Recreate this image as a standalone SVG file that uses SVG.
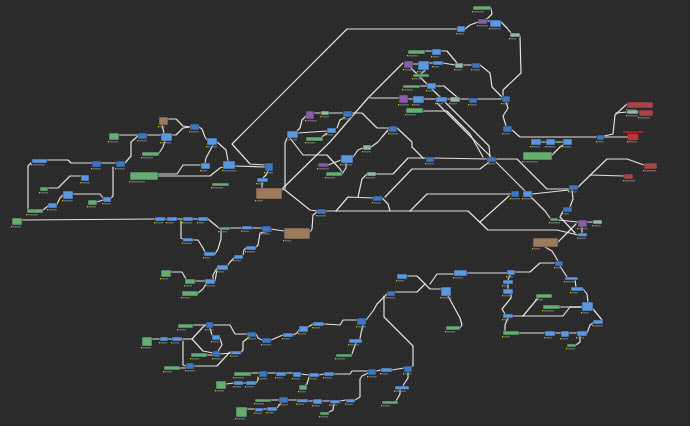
<svg xmlns="http://www.w3.org/2000/svg" width="690" height="426" viewBox="0 0 690 426">
<defs>
<pattern id="grid" width="4" height="4" patternUnits="userSpaceOnUse"><rect width="4" height="4" fill="#2a2a2a"/><path d="M4 0V4H0" fill="none" stroke="#303030" stroke-width="1"/></pattern>
<style>
.c{fill:none;stroke:#e2e2e2;stroke-width:1.2;stroke-linejoin:round;stroke-linecap:round}
.n rect:first-child{stroke:#1e2a38;stroke-width:.5}
.b{fill:#5c98df}.bd{fill:#3e77bd}.g{fill:#67ad6e}.br{fill:#9c7a5c}.pu{fill:#8a5ea6}.pa{fill:#95b8a5}.r{fill:#a94545}
.rd{fill:#b03a3a;stroke:#ff2020!important;stroke-dasharray:1.5 1;stroke-width:.8!important}
.lb{fill:#8a8a8a;opacity:.7}.dt{fill:#e0c000}
</style>
</defs>
<rect width="690" height="426" fill="url(#grid)"/>
<g id="connectors">
<polyline class="c" points="47,160 68,160 71,163 92,163"/>
<polyline class="c" points="101,163 116,163"/>
<polyline class="c" points="31,163 28,166 28,209"/>
<polyline class="c" points="22,220 155,219"/>
<polyline class="c" points="43,210 48,206"/>
<polyline class="c" points="57,204 60,198 63,195"/>
<polyline class="c" points="73,194 100,194 103,198"/>
<polyline class="c" points="97,202 103,200"/>
<polyline class="c" points="113,167 113,196 111,198"/>
<polyline class="c" points="125,163 131,156 131,142 138,136"/>
<polyline class="c" points="48,188 58,188 70,176 81,176"/>
<polyline class="c" points="158,174 177,174 183,165 201,165"/>
<polyline class="c" points="158,176 210,176 220,168 223,167"/>
<polyline class="c" points="119,135 138,135"/>
<polyline class="c" points="147,135 161,135"/>
<polyline class="c" points="172,135 176,135 183,128 190,127"/>
<polyline class="c" points="168,119 176,119 183,126 190,127"/>
<polyline class="c" points="164,133 162,125"/>
<polyline class="c" points="199,127 202,129 205,137 207,140"/>
<polyline class="c" points="213,145 206,158 205,163"/>
<polyline class="c" points="217,142 226,150 228,161"/>
<polyline class="c" points="159,153 163,147 165,141"/>
<polyline class="c" points="457,29 347,29 232,144 250,164 265,165"/>
<polyline class="c" points="235,166 265,167"/>
<polyline class="c" points="268,171 266,175 263,178"/>
<polyline class="c" points="262,182 262,188"/>
<polyline class="c" points="165,219 167,219"/>
<polyline class="c" points="177,219 183,219"/>
<polyline class="c" points="193,219 198,219"/>
<polyline class="c" points="208,219 214,224 219,228"/>
<polyline class="c" points="181,221 181,238 183,239"/>
<polyline class="c" points="193,240 198,240 203,248 205,252"/>
<polyline class="c" points="215,254 218,249 221,239 221,230"/>
<polyline class="c" points="230,228 242,228"/>
<polyline class="c" points="252,228 262,228"/>
<polyline class="c" points="271,229 284,231"/>
<polyline class="c" points="271,231 260,233 258,245 256,247"/>
<polyline class="c" points="246,248 244,250 243,255"/>
<polyline class="c" points="234,258 230,262 228,265"/>
<polyline class="c" points="217,268 213,275 213,279"/>
<polyline class="c" points="171,272 182,272 186,279"/>
<polyline class="c" points="195,281 205,281"/>
<polyline class="c" points="198,293 203,289 206,284"/>
<polyline class="c" points="317,212 313,215 312,229 310,232"/>
<polyline class="c" points="287,138 285,143 285,189 282,190"/>
<polyline class="c" points="403,63 368,98 330,142 282,189"/>
<polyline class="c" points="285,190 310,210 317,211"/>
<polyline class="c" points="326,211 468,211 488,230 557,230 578,235"/>
<polyline class="c" points="336,211 348,197 373,198"/>
<polyline class="c" points="382,198 388,204 390,211"/>
<polyline class="c" points="358,197 362,179 367,174"/>
<polyline class="c" points="376,174 393,174 408,158 426,158"/>
<polyline class="c" points="410,211 427,194 511,194"/>
<polyline class="c" points="532,194 569,190"/>
<polyline class="c" points="385,197 412,169 480,169 489,162"/>
<polyline class="c" points="434,158 487,159"/>
<polyline class="c" points="496,159 517,159 547,189 569,189"/>
<polyline class="c" points="397,128 412,142 412,147 423,158"/>
<polyline class="c" points="388,130 382,137 378,142 371,147"/>
<polyline class="c" points="352,113 362,113 377,128 389,128"/>
<polyline class="c" points="329,113 343,113"/>
<polyline class="c" points="314,113 321,113"/>
<polyline class="c" points="306,116 302,120 300,128 297,131"/>
<polyline class="c" points="298,133 327,131"/>
<polyline class="c" points="345,117 340,120 337,128"/>
<polyline class="c" points="327,133 322,137"/>
<polyline class="c" points="363,148 358,150 353,157"/>
<polyline class="c" points="328,165 341,160"/>
<polyline class="c" points="342,174 346,168 346,163"/>
<polyline class="c" points="290,138 303,155 327,155 340,169 342,172"/>
<polyline class="c" points="425,51 432,51"/>
<polyline class="c" points="441,51 447,51 457,63"/>
<polyline class="c" points="413,64 418,64"/>
<polyline class="c" points="429,63 433,63"/>
<polyline class="c" points="443,63 455,65"/>
<polyline class="c" points="463,65 472,65"/>
<polyline class="c" points="480,65 490,73 492,87 502,97"/>
<polyline class="c" points="420,86 427,86"/>
<polyline class="c" points="436,86 444,86 457,97"/>
<polyline class="c" points="370,98 399,98"/>
<polyline class="c" points="408,99 413,99"/>
<polyline class="c" points="424,99 436,99"/>
<polyline class="c" points="447,99 450,99"/>
<polyline class="c" points="460,99 469,99"/>
<polyline class="c" points="477,99 502,99"/>
<polyline class="c" points="425,70 421,74"/>
<polyline class="c" points="423,111 447,111 470,134 483,157"/>
<polyline class="c" points="520,36 521,73 503,90 503,96"/>
<polyline class="c" points="506,102 508,108 503,116 506,126"/>
<polyline class="c" points="501,22 507,28 511,33"/>
<polyline class="c" points="487,21 490,21"/>
<polyline class="c" points="465,29 470,25 478,22"/>
<polyline class="c" points="491,8 492,14 488,18 486,19"/>
<polyline class="c" points="411,68 489,146 490,157"/>
<polyline class="c" points="437,103 545,211 550,218"/>
<polyline class="c" points="604,137 628,137"/>
<polyline class="c" points="604,136 613,134 615,115 627,104"/>
<polyline class="c" points="616,113 627,112"/>
<polyline class="c" points="578,187 607,159 627,159 644,165"/>
<polyline class="c" points="590,175 624,176"/>
<polyline class="c" points="635,112 639,112"/>
<polyline class="c" points="512,130 520,137 597,137"/>
<polyline class="c" points="552,155 560,147 563,145"/>
<polyline class="c" points="541,142 546,142"/>
<polyline class="c" points="555,142 563,142"/>
<polyline class="c" points="572,190 573,199 570,207"/>
<polyline class="c" points="563,211 560,217 575,233"/>
<polyline class="c" points="558,220 578,222"/>
<polyline class="c" points="587,222 593,222"/>
<polyline class="c" points="582,227 582,233"/>
<polyline class="c" points="558,242 576,224"/>
<polyline class="c" points="545,247 552,251 558,261"/>
<polyline class="c" points="555,263 540,263 530,272 515,272"/>
<polyline class="c" points="467,273 507,273"/>
<polyline class="c" points="560,266 567,277"/>
<polyline class="c" points="510,275 508,280"/>
<polyline class="c" points="480,222 509,196"/>
<polyline class="c" points="508,284 508,289"/>
<polyline class="c" points="511,294 511,298 502,309 505,314"/>
<polyline class="c" points="513,316 563,316 570,307 582,307"/>
<polyline class="c" points="523,316 538,298"/>
<polyline class="c" points="560,307 582,307"/>
<polyline class="c" points="575,280 576,287"/>
<polyline class="c" points="583,289 587,294 588,302"/>
<polyline class="c" points="593,309 602,320"/>
<polyline class="c" points="508,318 505,325 505,331"/>
<polyline class="c" points="519,333 545,333"/>
<polyline class="c" points="555,333 561,333"/>
<polyline class="c" points="569,333 577,333"/>
<polyline class="c" points="587,333 590,325 593,323"/>
<polyline class="c" points="580,336 580,342 576,345"/>
<polyline class="c" points="448,296 460,318 462,325 460,328"/>
<polyline class="c" points="395,292 417,292 425,284"/>
<polyline class="c" points="407,276 417,276 425,284 430,289 441,289"/>
<polyline class="c" points="430,284 437,274 454,274"/>
<polyline class="c" points="384,296 384,317 413,346 413,366 410,367"/>
<polyline class="c" points="387,294 377,304 373,311 366,320"/>
<polyline class="c" points="357,320 343,320 340,325 324,324"/>
<polyline class="c" points="313,324 308,327"/>
<polyline class="c" points="299,330 297,333 293,335"/>
<polyline class="c" points="283,335 278,337 271,340"/>
<polyline class="c" points="262,340 258,338 256,334"/>
<polyline class="c" points="247,334 235,334 230,325 213,325"/>
<polyline class="c" points="249,337 243,342 243,350 241,352"/>
<polyline class="c" points="220,354 231,353"/>
<polyline class="c" points="363,325 361,333 360,339"/>
<polyline class="c" points="356,343 354,348 352,354"/>
<polyline class="c" points="251,373 259,373"/>
<polyline class="c" points="267,373 276,373"/>
<polyline class="c" points="286,373 293,373"/>
<polyline class="c" points="301,374 309,375"/>
<polyline class="c" points="319,375 324,374"/>
<polyline class="c" points="334,374 350,374 352,371 368,371"/>
<polyline class="c" points="376,371 381,370"/>
<polyline class="c" points="392,370 404,368"/>
<polyline class="c" points="243,383 246,383"/>
<polyline class="c" points="256,383 258,380 258,377"/>
<polyline class="c" points="309,377 307,384 305,386"/>
<polyline class="c" points="368,373 362,376 360,379 360,397 355,400"/>
<polyline class="c" points="408,372 408,378 404,384 403,386"/>
<polyline class="c" points="400,389 400,394 396,401"/>
<polyline class="c" points="271,400 279,400"/>
<polyline class="c" points="288,400 297,400"/>
<polyline class="c" points="308,401 313,401"/>
<polyline class="c" points="322,401 330,401"/>
<polyline class="c" points="340,401 346,400"/>
<polyline class="c" points="281,403 277,408"/>
<polyline class="c" points="247,409 255,409"/>
<polyline class="c" points="263,409 267,409"/>
<polyline class="c" points="334,403 333,410 329,412"/>
<polyline class="c" points="152,339 160,339"/>
<polyline class="c" points="168,339 172,339"/>
<polyline class="c" points="182,339 192,339 203,327 206,325"/>
<polyline class="c" points="192,339 203,351 213,353"/>
<polyline class="c" points="183,341 183,365 186,366"/>
<polyline class="c" points="193,325 206,325"/>
<polyline class="c" points="210,328 212,335"/>
<polyline class="c" points="220,338 222,345 218,351"/>
<polyline class="c" points="207,355 213,355"/>
<polyline class="c" points="194,366 217,366 230,352"/>
<polyline class="c" points="180,368 186,368"/>
<polyline class="c" points="226,384 234,383"/>
<polyline class="c" points="215,281 217,270"/>
</g>
<g id="n1" class="n"><rect class="b" x="32" y="159" width="15" height="4"/><rect class="dt" x="31" y="164" width="1.3" height="1.3"/><rect class="lb" x="33" y="164.2" width="12" height="1.2"/></g>
<g id="n2" class="n"><rect class="bd" x="92" y="161" width="9" height="6"/><rect class="dt" x="91" y="168" width="1.3" height="1.3"/><rect class="lb" x="93" y="168.2" width="8" height="1.2"/></g>
<g id="n3" class="n"><rect class="bd" x="116" y="161" width="9" height="6"/><rect class="dt" x="115" y="168" width="1.3" height="1.3"/><rect class="lb" x="117" y="168.2" width="8" height="1.2"/></g>
<g id="n4" class="n"><rect class="g" x="130" y="172" width="28" height="8"/><rect class="dt" x="129" y="181" width="1.3" height="1.3"/><rect class="lb" x="131" y="181.2" width="14" height="1.2"/></g>
<g id="n5" class="n"><rect class="b" x="81" y="175" width="8" height="6"/><rect class="dt" x="80" y="182" width="1.3" height="1.3"/><rect class="lb" x="82" y="182.2" width="8" height="1.2"/></g>
<g id="n6" class="n"><rect class="g" x="40" y="187" width="8" height="4"/><rect class="dt" x="39" y="192" width="1.3" height="1.3"/><rect class="lb" x="41" y="192.2" width="7" height="1.2"/></g>
<g id="n7" class="n"><rect class="b" x="63" y="191" width="10" height="8"/><rect class="dt" x="62" y="200" width="1.3" height="1.3"/><rect class="lb" x="64" y="200.2" width="9" height="1.2"/></g>
<g id="n8" class="n"><rect class="b" x="48" y="203" width="9" height="5"/><rect class="dt" x="47" y="209" width="1.3" height="1.3"/><rect class="lb" x="49" y="209.2" width="8" height="1.2"/></g>
<g id="n9" class="n"><rect class="g" x="88" y="200" width="9" height="5"/><rect class="dt" x="87" y="206" width="1.3" height="1.3"/><rect class="lb" x="89" y="206.2" width="7" height="1.2"/></g>
<g id="n10" class="n"><rect class="b" x="103" y="197" width="8" height="5"/><rect class="dt" x="102" y="203" width="1.3" height="1.3"/><rect class="lb" x="104" y="203.2" width="7" height="1.2"/></g>
<g id="n11" class="n"><rect class="g" x="27" y="209" width="16" height="4"/><rect class="dt" x="26" y="214" width="1.3" height="1.3"/><rect class="lb" x="28" y="214.2" width="10" height="1.2"/></g>
<g id="n12" class="n"><rect class="g" x="12" y="218" width="10" height="7"/><rect class="dt" x="11" y="226" width="1.3" height="1.3"/><rect class="lb" x="13" y="226.2" width="8" height="1.2"/></g>
<g id="n13" class="n"><rect class="br" x="159" y="117" width="9" height="8"/><rect class="dt" x="158" y="126" width="1.3" height="1.3"/><rect class="lb" x="160" y="126.2" width="5" height="1.2"/></g>
<g id="n14" class="n"><rect class="bd" x="190" y="124" width="9" height="6"/><rect class="dt" x="189" y="131" width="1.3" height="1.3"/><rect class="lb" x="191" y="131.2" width="8" height="1.2"/></g>
<g id="n15" class="n"><rect class="g" x="109" y="133" width="10" height="7"/><rect class="dt" x="108" y="141" width="1.3" height="1.3"/><rect class="lb" x="110" y="141.2" width="8" height="1.2"/></g>
<g id="n16" class="n"><rect class="bd" x="138" y="133" width="9" height="6"/><rect class="dt" x="137" y="140" width="1.3" height="1.3"/><rect class="lb" x="139" y="140.2" width="8" height="1.2"/></g>
<g id="n17" class="n"><rect class="b" x="161" y="133" width="11" height="8"/><rect class="dt" x="160" y="142" width="1.3" height="1.3"/><rect class="lb" x="162" y="142.2" width="9" height="1.2"/></g>
<g id="n18" class="n"><rect class="b" x="207" y="138" width="10" height="7"/><rect class="dt" x="206" y="146" width="1.3" height="1.3"/><rect class="lb" x="208" y="146.2" width="9" height="1.2"/></g>
<g id="n19" class="n"><rect class="g" x="142" y="152" width="17" height="4"/><rect class="dt" x="141" y="157" width="1.3" height="1.3"/><rect class="lb" x="143" y="157.2" width="10" height="1.2"/></g>
<g id="n20" class="n"><rect class="b" x="201" y="163" width="9" height="6"/><rect class="dt" x="200" y="170" width="1.3" height="1.3"/><rect class="lb" x="202" y="170.2" width="5" height="1.2"/></g>
<g id="n21" class="n"><rect class="b" x="223" y="161" width="12" height="8"/><rect class="dt" x="222" y="170" width="1.3" height="1.3"/><rect class="lb" x="224" y="170.2" width="12" height="1.2"/></g>
<g id="n22" class="n"><rect class="g" x="212" y="183" width="17" height="3"/><rect class="dt" x="211" y="187" width="1.3" height="1.3"/><rect class="lb" x="213" y="187.2" width="10" height="1.2"/></g>
<g id="n23" class="n"><rect class="b" x="155" y="217" width="10" height="4"/><rect class="dt" x="154" y="222" width="1.3" height="1.3"/><rect class="lb" x="156" y="222.2" width="7" height="1.2"/></g>
<g id="n24" class="n"><rect class="b" x="167" y="217" width="10" height="4"/><rect class="dt" x="166" y="222" width="1.3" height="1.3"/><rect class="lb" x="168" y="222.2" width="6" height="1.2"/></g>
<g id="n25" class="n"><rect class="b" x="183" y="217" width="10" height="4"/><rect class="dt" x="182" y="222" width="1.3" height="1.3"/><rect class="lb" x="184" y="222.2" width="8" height="1.2"/></g>
<g id="n26" class="n"><rect class="b" x="198" y="217" width="10" height="4"/><rect class="dt" x="197" y="222" width="1.3" height="1.3"/><rect class="lb" x="199" y="222.2" width="5" height="1.2"/></g>
<g id="n27" class="n"><rect class="g" x="219" y="227" width="11" height="3"/><rect class="dt" x="218" y="231" width="1.3" height="1.3"/><rect class="lb" x="220" y="231.2" width="7" height="1.2"/></g>
<g id="n28" class="n"><rect class="b" x="183" y="238" width="10" height="3.5"/><rect class="dt" x="182" y="242.5" width="1.3" height="1.3"/><rect class="lb" x="184" y="242.7" width="8" height="1.2"/></g>
<g id="n29" class="n"><rect class="b" x="204" y="252" width="11" height="4"/><rect class="dt" x="203" y="257" width="1.3" height="1.3"/><rect class="lb" x="205" y="257.2" width="5" height="1.2"/></g>
<g id="n30" class="n"><rect class="g" x="161" y="270" width="10" height="7"/><rect class="dt" x="160" y="278" width="1.3" height="1.3"/><rect class="lb" x="162" y="278.2" width="6" height="1.2"/></g>
<g id="n31" class="n"><rect class="g" x="185" y="279" width="10" height="5"/><rect class="dt" x="184" y="285" width="1.3" height="1.3"/><rect class="lb" x="186" y="285.2" width="6" height="1.2"/></g>
<g id="n32" class="n"><rect class="b" x="205" y="279" width="10" height="5"/><rect class="dt" x="204" y="285" width="1.3" height="1.3"/><rect class="lb" x="206" y="285.2" width="9" height="1.2"/></g>
<g id="n33" class="n"><rect class="b" x="217" y="265" width="11" height="5"/><rect class="dt" x="216" y="271" width="1.3" height="1.3"/><rect class="lb" x="218" y="271.2" width="6" height="1.2"/></g>
<g id="n34" class="n"><rect class="b" x="234" y="255" width="9" height="4"/><rect class="dt" x="233" y="260" width="1.3" height="1.3"/><rect class="lb" x="235" y="260.2" width="6" height="1.2"/></g>
<g id="n35" class="n"><rect class="b" x="246" y="246" width="10" height="4"/><rect class="dt" x="245" y="251" width="1.3" height="1.3"/><rect class="lb" x="247" y="251.2" width="8" height="1.2"/></g>
<g id="n36" class="n"><rect class="b" x="242" y="226" width="10" height="3.5"/><rect class="dt" x="241" y="230.5" width="1.3" height="1.3"/><rect class="lb" x="243" y="230.7" width="6" height="1.2"/></g>
<g id="n37" class="n"><rect class="bd" x="262" y="226" width="9" height="6"/><rect class="dt" x="261" y="233" width="1.3" height="1.3"/><rect class="lb" x="263" y="233.2" width="7" height="1.2"/></g>
<g id="n38" class="n"><rect class="br" x="284" y="228" width="26" height="11"/><rect class="dt" x="283" y="240" width="1.3" height="1.3"/><rect class="lb" x="285" y="240.2" width="6" height="1.2"/></g>
<g id="n39" class="n"><rect class="bd" x="265" y="163" width="8" height="8"/><rect class="dt" x="264" y="172" width="1.3" height="1.3"/><rect class="lb" x="266" y="172.2" width="7" height="1.2"/></g>
<g id="n40" class="n"><rect class="b" x="257" y="178" width="11" height="4"/><rect class="dt" x="256" y="183" width="1.3" height="1.3"/><rect class="lb" x="258" y="183.2" width="6" height="1.2"/></g>
<g id="n41" class="n"><rect class="br" x="256" y="188" width="26" height="11"/><rect class="dt" x="255" y="200" width="1.3" height="1.3"/><rect class="lb" x="257" y="200.2" width="6" height="1.2"/></g>
<g id="n42" class="n"><rect class="bd" x="317" y="209" width="9" height="5"/><rect class="dt" x="316" y="215" width="1.3" height="1.3"/><rect class="lb" x="318" y="215.2" width="8" height="1.2"/></g>
<g id="n43" class="n"><rect class="pu" x="318" y="163" width="10" height="4"/><rect class="dt" x="317" y="168" width="1.3" height="1.3"/><rect class="lb" x="319" y="168.2" width="10" height="1.2"/></g>
<g id="n44" class="n"><rect class="g" x="326" y="172" width="16" height="4"/><rect class="dt" x="325" y="177" width="1.3" height="1.3"/><rect class="lb" x="327" y="177.2" width="8" height="1.2"/></g>
<g id="n45" class="n"><rect class="b" x="341" y="155" width="12" height="8"/><rect class="dt" x="340" y="164" width="1.3" height="1.3"/><rect class="lb" x="342" y="164.2" width="10" height="1.2"/></g>
<g id="n46" class="n"><rect class="pa" x="363" y="145" width="8" height="5"/><rect class="dt" x="362" y="151" width="1.3" height="1.3"/><rect class="lb" x="364" y="151.2" width="7" height="1.2"/></g>
<g id="n47" class="n"><rect class="pa" x="367" y="172" width="9" height="4"/><rect class="dt" x="366" y="177" width="1.3" height="1.3"/><rect class="lb" x="368" y="177.2" width="7" height="1.2"/></g>
<g id="n48" class="n"><rect class="bd" x="373" y="196" width="9" height="5"/><rect class="dt" x="372" y="202" width="1.3" height="1.3"/><rect class="lb" x="374" y="202.2" width="7" height="1.2"/></g>
<g id="n49" class="n"><rect class="bd" x="426" y="157" width="8" height="5"/><rect class="dt" x="425" y="163" width="1.3" height="1.3"/><rect class="lb" x="427" y="163.2" width="7" height="1.2"/></g>
<g id="n50" class="n"><rect class="pu" x="306" y="111" width="8" height="8"/><rect class="dt" x="305" y="120" width="1.3" height="1.3"/><rect class="lb" x="307" y="120.2" width="10" height="1.2"/></g>
<g id="n51" class="n"><rect class="pa" x="321" y="111" width="8" height="4"/><rect class="dt" x="320" y="116" width="1.3" height="1.3"/><rect class="lb" x="322" y="116.2" width="7" height="1.2"/></g>
<g id="n52" class="n"><rect class="bd" x="343" y="111" width="9" height="6"/><rect class="dt" x="342" y="118" width="1.3" height="1.3"/><rect class="lb" x="344" y="118.2" width="7" height="1.2"/></g>
<g id="n53" class="n"><rect class="bd" x="389" y="126" width="8" height="6"/><rect class="dt" x="388" y="133" width="1.3" height="1.3"/><rect class="lb" x="390" y="133.2" width="8" height="1.2"/></g>
<g id="n54" class="n"><rect class="b" x="287" y="131" width="11" height="7"/><rect class="dt" x="286" y="139" width="1.3" height="1.3"/><rect class="lb" x="288" y="139.2" width="9" height="1.2"/></g>
<g id="n55" class="n"><rect class="b" x="327" y="128" width="9" height="5"/><rect class="dt" x="326" y="134" width="1.3" height="1.3"/><rect class="lb" x="328" y="134.2" width="5" height="1.2"/></g>
<g id="n56" class="n"><rect class="g" x="306" y="137" width="17" height="4"/><rect class="dt" x="305" y="142" width="1.3" height="1.3"/><rect class="lb" x="307" y="142.2" width="8" height="1.2"/></g>
<g id="n57" class="n"><rect class="g" x="408" y="50" width="17" height="4"/><rect class="dt" x="407" y="55" width="1.3" height="1.3"/><rect class="lb" x="409" y="55.2" width="9" height="1.2"/></g>
<g id="n58" class="n"><rect class="b" x="432" y="49" width="9" height="6"/><rect class="dt" x="431" y="56" width="1.3" height="1.3"/><rect class="lb" x="433" y="56.2" width="6" height="1.2"/></g>
<g id="n59" class="n"><rect class="pu" x="404" y="61" width="9" height="7"/><rect class="dt" x="403" y="69" width="1.3" height="1.3"/><rect class="lb" x="405" y="69.2" width="8" height="1.2"/></g>
<g id="n60" class="n"><rect class="b" x="418" y="61" width="11" height="9"/><rect class="dt" x="417" y="71" width="1.3" height="1.3"/><rect class="lb" x="419" y="71.2" width="7" height="1.2"/></g>
<g id="n61" class="n"><rect class="b" x="433" y="61" width="10" height="4"/><rect class="dt" x="432" y="66" width="1.3" height="1.3"/><rect class="lb" x="434" y="66.2" width="5" height="1.2"/></g>
<g id="n62" class="n"><rect class="pa" x="455" y="63" width="8" height="5"/><rect class="dt" x="454" y="69" width="1.3" height="1.3"/><rect class="lb" x="456" y="69.2" width="6" height="1.2"/></g>
<g id="n63" class="n"><rect class="g" x="413" y="74" width="16" height="3"/><rect class="dt" x="412" y="78" width="1.3" height="1.3"/><rect class="lb" x="414" y="78.2" width="9" height="1.2"/></g>
<g id="n64" class="n"><rect class="g" x="403" y="85" width="17" height="3"/><rect class="dt" x="402" y="89" width="1.3" height="1.3"/><rect class="lb" x="404" y="89.2" width="9" height="1.2"/></g>
<g id="n65" class="n"><rect class="b" x="427" y="83" width="9" height="6"/><rect class="dt" x="426" y="90" width="1.3" height="1.3"/><rect class="lb" x="428" y="90.2" width="6" height="1.2"/></g>
<g id="n66" class="n"><rect class="pu" x="399" y="95" width="9" height="8"/><rect class="dt" x="398" y="104" width="1.3" height="1.3"/><rect class="lb" x="400" y="104.2" width="9" height="1.2"/></g>
<g id="n67" class="n"><rect class="b" x="413" y="96" width="11" height="7"/><rect class="dt" x="412" y="104" width="1.3" height="1.3"/><rect class="lb" x="414" y="104.2" width="6" height="1.2"/></g>
<g id="n68" class="n"><rect class="b" x="436" y="97" width="11" height="5"/><rect class="dt" x="435" y="103" width="1.3" height="1.3"/><rect class="lb" x="437" y="103.2" width="6" height="1.2"/></g>
<g id="n69" class="n"><rect class="pa" x="450" y="97" width="10" height="5"/><rect class="dt" x="449" y="103" width="1.3" height="1.3"/><rect class="lb" x="451" y="103.2" width="6" height="1.2"/></g>
<g id="n70" class="n"><rect class="g" x="406" y="108" width="17" height="5"/><rect class="dt" x="405" y="114" width="1.3" height="1.3"/><rect class="lb" x="407" y="114.2" width="9" height="1.2"/></g>
<g id="n71" class="n"><rect class="b" x="457" y="26" width="8" height="6"/><rect class="dt" x="456" y="33" width="1.3" height="1.3"/><rect class="lb" x="458" y="33.2" width="6" height="1.2"/></g>
<g id="n72" class="n"><rect class="g" x="473" y="6" width="18" height="4"/><rect class="dt" x="472" y="11" width="1.3" height="1.3"/><rect class="lb" x="474" y="11.2" width="10" height="1.2"/></g>
<g id="n73" class="n"><rect class="pu" x="478" y="19" width="9" height="5"/><rect class="dt" x="477" y="25" width="1.3" height="1.3"/><rect class="lb" x="479" y="25.2" width="9" height="1.2"/></g>
<g id="n74" class="n"><rect class="b" x="490" y="20" width="11" height="7"/><rect class="dt" x="489" y="28" width="1.3" height="1.3"/><rect class="lb" x="491" y="28.2" width="10" height="1.2"/></g>
<g id="n75" class="n"><rect class="pa" x="510" y="33" width="10" height="4"/><rect class="dt" x="509" y="38" width="1.3" height="1.3"/><rect class="lb" x="511" y="38.2" width="5" height="1.2"/></g>
<g id="n76" class="n"><rect class="bd" x="472" y="63" width="8" height="5"/><rect class="dt" x="471" y="69" width="1.3" height="1.3"/><rect class="lb" x="473" y="69.2" width="7" height="1.2"/></g>
<g id="n77" class="n"><rect class="bd" x="469" y="98" width="8" height="5"/><rect class="dt" x="468" y="104" width="1.3" height="1.3"/><rect class="lb" x="470" y="104.2" width="7" height="1.2"/></g>
<g id="n78" class="n"><rect class="bd" x="502" y="96" width="8" height="6"/><rect class="dt" x="501" y="103" width="1.3" height="1.3"/><rect class="lb" x="503" y="103.2" width="6" height="1.2"/></g>
<g id="n79" class="n"><rect class="bd" x="503" y="126" width="9" height="6"/><rect class="dt" x="502" y="133" width="1.3" height="1.3"/><rect class="lb" x="504" y="133.2" width="6" height="1.2"/></g>
<g id="n80" class="n"><rect class="bd" x="597" y="135" width="7" height="5"/><rect class="dt" x="596" y="141" width="1.3" height="1.3"/><rect class="lb" x="598" y="141.2" width="6" height="1.2"/></g>
<g id="n81" class="n"><rect class="r" x="627" y="102" width="26" height="6"/><rect class="dt" x="626" y="109" width="1.3" height="1.3"/><rect class="lb" x="628" y="109" width="8" height="1"/></g>
<g id="n82" class="n"><rect class="pa" x="627" y="110" width="11" height="4"/><rect class="dt" x="626" y="115" width="1.3" height="1.3"/><rect class="lb" x="628" y="115.2" width="10" height="1.2"/></g>
<g id="n83" class="n"><rect class="r" x="639" y="110" width="14" height="6"/><rect class="dt" x="638" y="117" width="1.3" height="1.3"/><rect class="lb" x="640" y="117.2" width="10" height="1.2"/></g>
<g id="n84" class="n"><rect class="rd" x="628" y="134" width="10" height="6"/><rect x="623" y="131.5" width="20" height="1.2" fill="#e02020"/><rect class="dt" x="627" y="141" width="1.3" height="1.3"/><rect class="lb" x="629" y="141.2" width="8" height="1.2"/></g>
<g id="n85" class="n"><rect class="r" x="644" y="163" width="13" height="6"/><rect class="dt" x="643" y="170" width="1.3" height="1.3"/><rect class="lb" x="645" y="170.2" width="11" height="1.2"/></g>
<g id="n86" class="n"><rect class="r" x="624" y="174" width="9" height="5"/><rect class="dt" x="623" y="180" width="1.3" height="1.3"/><rect class="lb" x="625" y="180.2" width="10" height="1.2"/></g>
<g id="n87" class="n"><rect class="bd" x="487" y="157" width="9" height="5"/><rect class="dt" x="486" y="163" width="1.3" height="1.3"/><rect class="lb" x="488" y="163.2" width="7" height="1.2"/></g>
<g id="n88" class="n"><rect class="g" x="523" y="152" width="29" height="8"/><rect class="dt" x="522" y="161" width="1.3" height="1.3"/><rect class="lb" x="524" y="161.2" width="14" height="1.2"/></g>
<g id="n89" class="n"><rect class="b" x="531" y="139" width="10" height="6"/><rect class="dt" x="530" y="146" width="1.3" height="1.3"/><rect class="lb" x="532" y="146.2" width="8" height="1.2"/></g>
<g id="n90" class="n"><rect class="b" x="546" y="139" width="9" height="6"/><rect class="dt" x="545" y="146" width="1.3" height="1.3"/><rect class="lb" x="547" y="146.2" width="8" height="1.2"/></g>
<g id="n91" class="n"><rect class="b" x="563" y="139" width="9" height="6"/><rect class="dt" x="562" y="146" width="1.3" height="1.3"/><rect class="lb" x="564" y="146.2" width="7" height="1.2"/></g>
<g id="n92" class="n"><rect class="bd" x="569" y="185" width="9" height="5"/><rect class="dt" x="568" y="191" width="1.3" height="1.3"/><rect class="lb" x="570" y="191.2" width="7" height="1.2"/></g>
<g id="n93" class="n"><rect class="bd" x="511" y="191" width="8" height="6"/><rect class="dt" x="510" y="198" width="1.3" height="1.3"/><rect class="lb" x="512" y="198.2" width="8" height="1.2"/></g>
<g id="n94" class="n"><rect class="b" x="523" y="191" width="9" height="6"/><rect class="dt" x="522" y="198" width="1.3" height="1.3"/><rect class="lb" x="524" y="198.2" width="8" height="1.2"/></g>
<g id="n95" class="n"><rect class="bd" x="563" y="207" width="9" height="5"/><rect class="dt" x="562" y="213" width="1.3" height="1.3"/><rect class="lb" x="564" y="213.2" width="5" height="1.2"/></g>
<g id="n96" class="n"><rect class="g" x="550" y="218" width="8" height="3"/><rect class="dt" x="549" y="222" width="1.3" height="1.3"/><rect class="lb" x="551" y="222.2" width="9" height="1.2"/></g>
<g id="n97" class="n"><rect class="pu" x="578" y="220" width="9" height="7"/><rect class="dt" x="577" y="228" width="1.3" height="1.3"/><rect class="lb" x="579" y="228.2" width="9" height="1.2"/></g>
<g id="n98" class="n"><rect class="pa" x="593" y="220" width="9" height="4"/><rect class="dt" x="592" y="225" width="1.3" height="1.3"/><rect class="lb" x="594" y="225.2" width="7" height="1.2"/></g>
<g id="n99" class="n"><rect class="b" x="578" y="233" width="9" height="3.5"/><rect class="dt" x="577" y="237.5" width="1.3" height="1.3"/><rect class="lb" x="579" y="237.7" width="7" height="1.2"/></g>
<g id="n100" class="n"><rect class="br" x="533" y="238" width="25" height="9"/><rect class="dt" x="532" y="248" width="1.3" height="1.3"/><rect class="lb" x="534" y="248.2" width="6" height="1.2"/></g>
<g id="n101" class="n"><rect class="bd" x="555" y="261" width="8" height="5"/><rect class="dt" x="554" y="267" width="1.3" height="1.3"/><rect class="lb" x="556" y="267.2" width="6" height="1.2"/></g>
<g id="n102" class="n"><rect class="b" x="454" y="270" width="13" height="6"/><rect class="dt" x="453" y="277" width="1.3" height="1.3"/><rect class="lb" x="455" y="277.2" width="8" height="1.2"/></g>
<g id="n103" class="n"><rect class="b" x="507" y="270" width="8" height="5"/><rect class="dt" x="506" y="276" width="1.3" height="1.3"/><rect class="lb" x="508" y="276.2" width="5" height="1.2"/></g>
<g id="n104" class="n"><rect class="b" x="565" y="277" width="13" height="3"/><rect class="dt" x="564" y="281" width="1.3" height="1.3"/><rect class="lb" x="566" y="281.2" width="8" height="1.2"/></g>
<g id="n105" class="n"><rect class="b" x="503" y="280" width="10" height="4"/><rect class="dt" x="502" y="285" width="1.3" height="1.3"/><rect class="lb" x="504" y="285.2" width="5" height="1.2"/></g>
<g id="n106" class="n"><rect class="b" x="397" y="274" width="10" height="5"/><rect class="dt" x="396" y="280" width="1.3" height="1.3"/><rect class="lb" x="398" y="280.2" width="6" height="1.2"/></g>
<g id="n107" class="n"><rect class="b" x="503" y="289" width="10" height="5"/><rect class="dt" x="502" y="295" width="1.3" height="1.3"/><rect class="lb" x="504" y="295.2" width="7" height="1.2"/></g>
<g id="n108" class="n"><rect class="b" x="571" y="287" width="12" height="4"/><rect class="dt" x="570" y="292" width="1.3" height="1.3"/><rect class="lb" x="572" y="292.2" width="6" height="1.2"/></g>
<g id="n109" class="n"><rect class="g" x="536" y="294" width="16" height="4"/><rect class="dt" x="535" y="299" width="1.3" height="1.3"/><rect class="lb" x="537" y="299.2" width="6" height="1.2"/></g>
<g id="n110" class="n"><rect class="g" x="543" y="305" width="17" height="4"/><rect class="dt" x="542" y="310" width="1.3" height="1.3"/><rect class="lb" x="544" y="310.2" width="10" height="1.2"/></g>
<g id="n111" class="n"><rect class="b" x="582" y="302" width="11" height="9"/><rect class="dt" x="581" y="312" width="1.3" height="1.3"/><rect class="lb" x="583" y="312.2" width="6" height="1.2"/></g>
<g id="n112" class="n"><rect class="b" x="503" y="314" width="10" height="4"/><rect class="dt" x="502" y="319" width="1.3" height="1.3"/><rect class="lb" x="504" y="319.2" width="5" height="1.2"/></g>
<g id="n113" class="n"><rect class="b" x="593" y="320" width="10" height="4"/><rect class="dt" x="592" y="325" width="1.3" height="1.3"/><rect class="lb" x="594" y="325.2" width="9" height="1.2"/></g>
<g id="n114" class="n"><rect class="g" x="503" y="331" width="16" height="4"/><rect class="dt" x="502" y="336" width="1.3" height="1.3"/><rect class="lb" x="504" y="336.2" width="6" height="1.2"/></g>
<g id="n115" class="n"><rect class="b" x="545" y="331" width="10" height="5"/><rect class="dt" x="544" y="337" width="1.3" height="1.3"/><rect class="lb" x="546" y="337.2" width="6" height="1.2"/></g>
<g id="n116" class="n"><rect class="b" x="561" y="331" width="8" height="6"/><rect class="dt" x="560" y="338" width="1.3" height="1.3"/><rect class="lb" x="562" y="338.2" width="6" height="1.2"/></g>
<g id="n117" class="n"><rect class="b" x="577" y="331" width="10" height="5"/><rect class="dt" x="576" y="337" width="1.3" height="1.3"/><rect class="lb" x="578" y="337.2" width="6" height="1.2"/></g>
<g id="n118" class="n"><rect class="g" x="567" y="344" width="9" height="3"/><rect class="dt" x="566" y="348" width="1.3" height="1.3"/><rect class="lb" x="568" y="348.2" width="7" height="1.2"/></g>
<g id="n119" class="n"><rect class="bd" x="387" y="291" width="8" height="5"/><rect class="dt" x="386" y="297" width="1.3" height="1.3"/><rect class="lb" x="388" y="297.2" width="7" height="1.2"/></g>
<g id="n120" class="n"><rect class="b" x="441" y="287" width="10" height="9"/><rect class="dt" x="440" y="297" width="1.3" height="1.3"/><rect class="lb" x="442" y="297.2" width="10" height="1.2"/></g>
<g id="n121" class="n"><rect class="g" x="446" y="326" width="14" height="4"/><rect class="dt" x="445" y="331" width="1.3" height="1.3"/><rect class="lb" x="447" y="331.2" width="8" height="1.2"/></g>
<g id="n122" class="n"><rect class="bd" x="357" y="318" width="9" height="7"/><rect class="dt" x="356" y="326" width="1.3" height="1.3"/><rect class="lb" x="358" y="326.2" width="8" height="1.2"/></g>
<g id="n123" class="n"><rect class="b" x="313" y="322" width="11" height="4"/><rect class="dt" x="312" y="327" width="1.3" height="1.3"/><rect class="lb" x="314" y="327.2" width="6" height="1.2"/></g>
<g id="n124" class="n"><rect class="b" x="299" y="326" width="9" height="6"/><rect class="dt" x="298" y="333" width="1.3" height="1.3"/><rect class="lb" x="300" y="333.2" width="6" height="1.2"/></g>
<g id="n125" class="n"><rect class="b" x="283" y="333" width="10" height="4"/><rect class="dt" x="282" y="338" width="1.3" height="1.3"/><rect class="lb" x="284" y="338.2" width="6" height="1.2"/></g>
<g id="n126" class="n"><rect class="bd" x="262" y="338" width="9" height="5"/><rect class="dt" x="261" y="344" width="1.3" height="1.3"/><rect class="lb" x="263" y="344.2" width="8" height="1.2"/></g>
<g id="n127" class="n"><rect class="bd" x="247" y="332" width="9" height="5"/><rect class="dt" x="246" y="338" width="1.3" height="1.3"/><rect class="lb" x="248" y="338.2" width="8" height="1.2"/></g>
<g id="n128" class="n"><rect class="b" x="231" y="351" width="10" height="3.5"/><rect class="dt" x="230" y="355.5" width="1.3" height="1.3"/><rect class="lb" x="232" y="355.7" width="6" height="1.2"/></g>
<g id="n129" class="n"><rect class="b" x="349" y="339" width="13" height="4"/><rect class="dt" x="348" y="344" width="1.3" height="1.3"/><rect class="lb" x="350" y="344.2" width="9" height="1.2"/></g>
<g id="n130" class="n"><rect class="g" x="336" y="354" width="16" height="3"/><rect class="dt" x="335" y="358" width="1.3" height="1.3"/><rect class="lb" x="337" y="358.2" width="8" height="1.2"/></g>
<g id="n131" class="n"><rect class="g" x="234" y="372" width="17" height="4"/><rect class="dt" x="233" y="377" width="1.3" height="1.3"/><rect class="lb" x="235" y="377.2" width="9" height="1.2"/></g>
<g id="n132" class="n"><rect class="bd" x="259" y="371" width="8" height="6"/><rect class="dt" x="258" y="378" width="1.3" height="1.3"/><rect class="lb" x="260" y="378.2" width="7" height="1.2"/></g>
<g id="n133" class="n"><rect class="b" x="276" y="372" width="10" height="4"/><rect class="dt" x="275" y="377" width="1.3" height="1.3"/><rect class="lb" x="277" y="377.2" width="6" height="1.2"/></g>
<g id="n134" class="n"><rect class="b" x="293" y="372" width="8" height="5"/><rect class="dt" x="292" y="378" width="1.3" height="1.3"/><rect class="lb" x="294" y="378.2" width="6" height="1.2"/></g>
<g id="n135" class="n"><rect class="b" x="309" y="373" width="10" height="4"/><rect class="dt" x="308" y="378" width="1.3" height="1.3"/><rect class="lb" x="310" y="378.2" width="7" height="1.2"/></g>
<g id="n136" class="n"><rect class="b" x="324" y="372" width="10" height="4"/><rect class="dt" x="323" y="377" width="1.3" height="1.3"/><rect class="lb" x="325" y="377.2" width="7" height="1.2"/></g>
<g id="n137" class="n"><rect class="bd" x="368" y="369" width="8" height="6"/><rect class="dt" x="367" y="376" width="1.3" height="1.3"/><rect class="lb" x="369" y="376.2" width="8" height="1.2"/></g>
<g id="n138" class="n"><rect class="b" x="381" y="368" width="11" height="4"/><rect class="dt" x="380" y="373" width="1.3" height="1.3"/><rect class="lb" x="382" y="373.2" width="6" height="1.2"/></g>
<g id="n139" class="n"><rect class="bd" x="404" y="366" width="8" height="6"/><rect class="dt" x="403" y="373" width="1.3" height="1.3"/><rect class="lb" x="405" y="373.2" width="7" height="1.2"/></g>
<g id="n140" class="n"><rect class="b" x="234" y="381" width="9" height="4"/><rect class="dt" x="233" y="386" width="1.3" height="1.3"/><rect class="lb" x="235" y="386.2" width="6" height="1.2"/></g>
<g id="n141" class="n"><rect class="b" x="246" y="381" width="10" height="4"/><rect class="dt" x="245" y="386" width="1.3" height="1.3"/><rect class="lb" x="247" y="386.2" width="7" height="1.2"/></g>
<g id="n142" class="n"><rect class="g" x="299" y="385" width="8" height="5"/><rect class="dt" x="298" y="391" width="1.3" height="1.3"/><rect class="lb" x="300" y="391.2" width="6" height="1.2"/></g>
<g id="n143" class="n"><rect class="b" x="395" y="386" width="14" height="3.5"/><rect class="dt" x="394" y="390.5" width="1.3" height="1.3"/><rect class="lb" x="396" y="390.7" width="10" height="1.2"/></g>
<g id="n144" class="n"><rect class="g" x="382" y="401" width="16" height="3"/><rect class="dt" x="381" y="405" width="1.3" height="1.3"/><rect class="lb" x="383" y="405.2" width="7" height="1.2"/></g>
<g id="n145" class="n"><rect class="g" x="255" y="399" width="16" height="3"/><rect class="dt" x="254" y="403" width="1.3" height="1.3"/><rect class="lb" x="256" y="403.2" width="8" height="1.2"/></g>
<g id="n146" class="n"><rect class="bd" x="279" y="397" width="9" height="6"/><rect class="dt" x="278" y="404" width="1.3" height="1.3"/><rect class="lb" x="280" y="404.2" width="8" height="1.2"/></g>
<g id="n147" class="n"><rect class="b" x="297" y="399" width="11" height="3.5"/><rect class="dt" x="296" y="403.5" width="1.3" height="1.3"/><rect class="lb" x="298" y="403.7" width="6" height="1.2"/></g>
<g id="n148" class="n"><rect class="b" x="313" y="399" width="9" height="5"/><rect class="dt" x="312" y="405" width="1.3" height="1.3"/><rect class="lb" x="314" y="405.2" width="6" height="1.2"/></g>
<g id="n149" class="n"><rect class="b" x="330" y="400" width="10" height="3.5"/><rect class="dt" x="329" y="404.5" width="1.3" height="1.3"/><rect class="lb" x="331" y="404.7" width="6" height="1.2"/></g>
<g id="n150" class="n"><rect class="b" x="346" y="399" width="9" height="3.5"/><rect class="dt" x="345" y="403.5" width="1.3" height="1.3"/><rect class="lb" x="347" y="403.7" width="6" height="1.2"/></g>
<g id="n151" class="n"><rect class="g" x="236" y="407" width="11" height="10"/><rect class="dt" x="235" y="418" width="1.3" height="1.3"/><rect class="lb" x="237" y="418.2" width="8" height="1.2"/></g>
<g id="n152" class="n"><rect class="b" x="255" y="408" width="8" height="3.5"/><rect class="dt" x="254" y="412.5" width="1.3" height="1.3"/><rect class="lb" x="256" y="412.7" width="6" height="1.2"/></g>
<g id="n153" class="n"><rect class="b" x="267" y="407" width="10" height="4"/><rect class="dt" x="266" y="412" width="1.3" height="1.3"/><rect class="lb" x="268" y="412.2" width="6" height="1.2"/></g>
<g id="n154" class="n"><rect class="g" x="320" y="412" width="9" height="3"/><rect class="dt" x="319" y="416" width="1.3" height="1.3"/><rect class="lb" x="321" y="416.2" width="7" height="1.2"/></g>
<g id="n155" class="n"><rect class="g" x="182" y="291" width="16" height="5"/><rect class="dt" x="181" y="297" width="1.3" height="1.3"/><rect class="lb" x="183" y="297.2" width="7" height="1.2"/></g>
<g id="n156" class="n"><rect class="g" x="178" y="324" width="15" height="4"/><rect class="dt" x="177" y="329" width="1.3" height="1.3"/><rect class="lb" x="179" y="329.2" width="7" height="1.2"/></g>
<g id="n157" class="n"><rect class="bd" x="206" y="322" width="7" height="6"/><rect class="dt" x="205" y="329" width="1.3" height="1.3"/><rect class="lb" x="207" y="329.2" width="7" height="1.2"/></g>
<g id="n158" class="n"><rect class="g" x="142" y="337" width="10" height="9"/><rect class="dt" x="141" y="347" width="1.3" height="1.3"/><rect class="lb" x="143" y="347.2" width="8" height="1.2"/></g>
<g id="n159" class="n"><rect class="b" x="160" y="337" width="8" height="4"/><rect class="dt" x="159" y="342" width="1.3" height="1.3"/><rect class="lb" x="161" y="342.2" width="6" height="1.2"/></g>
<g id="n160" class="n"><rect class="b" x="172" y="337" width="10" height="4"/><rect class="dt" x="171" y="342" width="1.3" height="1.3"/><rect class="lb" x="173" y="342.2" width="6" height="1.2"/></g>
<g id="n161" class="n"><rect class="b" x="212" y="335" width="8" height="5"/><rect class="dt" x="211" y="341" width="1.3" height="1.3"/><rect class="lb" x="213" y="341.2" width="6" height="1.2"/></g>
<g id="n162" class="n"><rect class="g" x="191" y="353" width="16" height="4"/><rect class="dt" x="190" y="358" width="1.3" height="1.3"/><rect class="lb" x="192" y="358.2" width="7" height="1.2"/></g>
<g id="n163" class="n"><rect class="bd" x="213" y="351" width="7" height="6"/><rect class="dt" x="212" y="358" width="1.3" height="1.3"/><rect class="lb" x="214" y="358.2" width="8" height="1.2"/></g>
<g id="n164" class="n"><rect class="g" x="164" y="366" width="16" height="4"/><rect class="dt" x="163" y="371" width="1.3" height="1.3"/><rect class="lb" x="165" y="371.2" width="7" height="1.2"/></g>
<g id="n165" class="n"><rect class="bd" x="186" y="363" width="8" height="6"/><rect class="dt" x="185" y="370" width="1.3" height="1.3"/><rect class="lb" x="187" y="370.2" width="8" height="1.2"/></g>
<g id="n166" class="n"><rect class="g" x="216" y="381" width="10" height="8"/><rect class="dt" x="215" y="390" width="1.3" height="1.3"/><rect class="lb" x="217" y="390.2" width="7" height="1.2"/></g>
</svg>
